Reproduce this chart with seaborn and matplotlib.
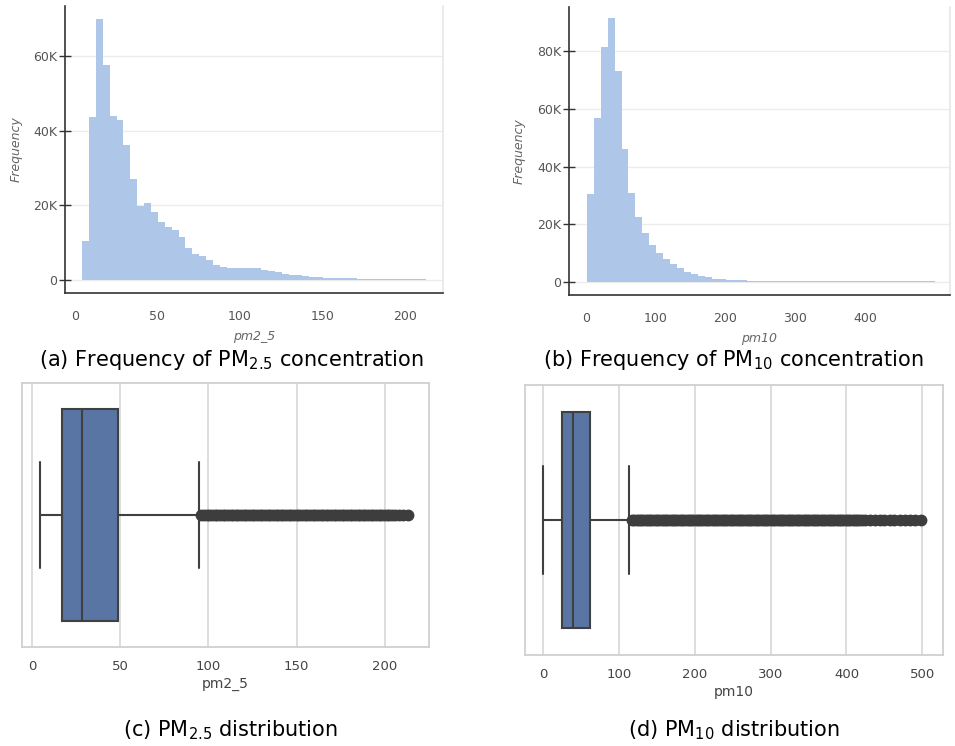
import numpy as np
import pandas as pd
import matplotlib
matplotlib.use('Agg')
import matplotlib.pyplot as plt
from matplotlib.ticker import FuncFormatter
import seaborn as sns

# histogram counts in thousands, 50 equal-width bins per pollutant
pm25_counts_k = [10.4, 43.7, 70.0, 57.7, 44.0, 42.8, 36.2, 27.0, 19.9, 20.6,
                 18.1, 15.5, 14.2, 13.4, 11.6, 8.5, 7.0, 6.4, 5.3, 4.1,
                 3.6, 3.3, 3.1, 3.1, 3.3, 3.2, 2.7, 2.3, 2.0, 1.7,
                 1.4, 1.2, 1.0, 0.8, 0.7, 0.6, 0.5, 0.45, 0.4, 0.4,
                 0.35, 0.3, 0.3, 0.25, 0.25, 0.25, 0.25, 0.25, 0.25, 0.25]
pm25_range = (4.4, 212.9)

pm10_counts_k = [30.4, 56.9, 81.5, 91.7, 73.3, 46.2, 30.8, 22.5, 16.9, 12.8,
                 10.1, 8.0, 6.1, 4.8, 3.6, 2.8, 2.1, 1.6, 1.2, 0.9,
                 0.75, 0.65, 0.55, 0.5, 0.45, 0.4, 0.35, 0.35, 0.3, 0.3,
                 0.3, 0.28, 0.27, 0.25, 0.25, 0.25, 0.25, 0.25, 0.25, 0.25,
                 0.25, 0.25, 0.25, 0.25, 0.25, 0.25, 0.25, 0.25, 0.25, 0.25]
pm10_range = (1.0, 500.0)

# box summaries: [lower whisker, q1, median, q3, upper whisker]
pm25_box = [4.4, 17.0, 28.3, 48.5, 94.6]
pm25_outliers = [96, 97.5, 99, 100.5, 102, 103.5, 105, 106.5, 108, 109.5,
                 111, 112.5, 114, 115.5, 117, 118.5, 120, 121.5, 123, 124.5,
                 126, 127.5, 129, 130.5, 132, 133.5, 135, 136.5, 138, 139.5,
                 141, 142.5, 144, 145.5, 147, 148.5, 150, 151.5, 153, 154.5,
                 156, 157.5, 159, 160.5, 162, 163.5, 165, 166.5, 168, 169.5,
                 171, 172.5, 174, 175.5, 177, 178.5, 180, 181.5, 183, 184.5,
                 186, 187.5, 189, 190.5, 192, 193.5, 195, 196.5, 198, 199.5,
                 201, 202.5, 204, 206, 208, 210.5, 213]
pm10_box = [0.0, 25.0, 38.7, 61.6, 113.0]
pm10_outliers = [117, 120, 123, 126, 129, 132, 135, 138, 141, 144,
                 147, 150, 153, 156, 159, 162, 165, 168, 171, 174,
                 177, 180, 183, 186, 189, 192, 195, 198, 201, 204,
                 207, 210, 213, 216, 219, 222, 225, 228, 231, 234,
                 237, 240, 243, 246, 249, 252, 255, 258, 261, 264,
                 267, 270, 273, 276, 279, 282, 285, 288, 291, 294,
                 297, 300, 303, 306, 309, 312, 315, 318, 321, 324,
                 327, 330, 333, 336, 339, 342, 345, 348, 351, 354,
                 357, 360, 363, 366, 369, 372, 375, 378, 381, 384,
                 387, 390, 393, 396, 399, 402, 405, 408, 411, 414,
                 417, 420, 425, 431, 437, 444, 450, 457, 463, 470,
                 477, 484, 491, 498]

captions = ['(a) Frequency of PM$_{2.5}$ concentration',
            '(b) Frequency of PM$_{10}$ concentration',
            '(c) PM$_{2.5}$ distribution',
            '(d) PM$_{10}$ distribution']

W, H = 955, 746


def px_axes(fig, x0, y0, x1, y1):
    # pixel box (top-left origin) -> figure fraction
    return fig.add_axes([x0 / W, 1 - y1 / H, (x1 - x0) / W, (y1 - y0) / H])


def box_sample(stats, outliers):
    # sample whose quartiles / whiskers reproduce the read summary
    lo, q1, med, q3, hi = stats
    m = len(outliers)
    k = 3 * m + 30
    vals = [lo] * (m + 1) + [q1] * k + [med] * k + [q3] * k + [hi] + list(outliers)
    return np.array(vals, dtype=float)


def draw_hist(ax, counts_k, rng, xlabel, xlim, ylim, xticks, yticks):
    n = len(counts_k)
    width = (rng[1] - rng[0]) / n
    df = pd.DataFrame({'v': rng[0] + width * (np.arange(n) + 0.5),
                       'w': np.array(counts_k) * 1000})
    sns.histplot(data=df, x='v', weights='w', bins=n, binrange=rng,
                 element='step', fill=True, color='#aec7e8', alpha=1,
                 linewidth=0, ax=ax)
    ax.set_xlim(*xlim)
    ax.set_ylim(*ylim)
    ax.set_xticks(xticks)
    ax.set_yticks(yticks)
    ax.yaxis.set_major_formatter(FuncFormatter(
        lambda v, p: '0' if v == 0 else '%dK' % (v / 1000)))
    ax.set_facecolor('white')
    ax.grid(axis='y', color='#ececec', linewidth=1)
    ax.grid(axis='x', visible=False)
    ax.set_axisbelow(True)
    ax.spines['top'].set_visible(False)
    ax.spines['right'].set_color('#e8e8e8')
    for s in ['left', 'bottom']:
        ax.spines[s].set_color('#333333')
        ax.spines[s].set_linewidth(1.2)
    ax.tick_params(axis='y', left=True, direction='inout', length=9, width=1,
                   color='#333333', pad=1, labelsize=9, labelcolor='#555555')
    ax.tick_params(axis='x', bottom=False, length=0, pad=12, labelsize=9,
                   labelcolor='#555555')
    ax.set_xlabel(xlabel, fontsize=9, style='italic', color='#666666', labelpad=5)
    ax.set_ylabel('Frequency', fontsize=9, style='italic', color='#666666',
                  labelpad=8)


def draw_box(ax, stats, outliers, xlabel, xlim, xticks):
    data = box_sample(stats, outliers)
    sns.boxplot(x=data, ax=ax, color='#4c72b0', saturation=0.75, width=0.8,
                linewidth=1.5, linecolor='#404040',
                flierprops=dict(marker='o', markersize=7.5,
                                markerfacecolor='#3d3d3d',
                                markeredgecolor='#3d3d3d'))
    ax.set_xlim(*xlim)
    ax.set_xticks(xticks)
    ax.set_yticks([])
    ax.grid(axis='x', color='#dadada', linewidth=1.3)
    for s in ax.spines.values():
        s.set_color('#d0d0d0')
        s.set_linewidth(1.3)
    ax.tick_params(axis='x', length=0, pad=9, labelsize=9.5, labelcolor='#444444')
    ax.set_xlabel(xlabel, fontsize=10, color='#444444', labelpad=3)


sns.set_theme(style='white')
plt.rcParams['font.family'] = ['DejaVu Sans']
plt.rcParams['mathtext.default'] = 'regular'

fig = plt.figure(figsize=(W / 100, H / 100), dpi=100)
fig.patch.set_facecolor('white')

ax_a = px_axes(fig, 65, 6, 443, 293)
draw_hist(ax_a, pm25_counts_k, pm25_range, 'pm2_5', (-6, 223), (-3500, 73400),
          [0, 50, 100, 150, 200], [0, 20000, 40000, 60000])

ax_b = px_axes(fig, 569, 7, 950, 295)
draw_hist(ax_b, pm10_counts_k, pm10_range, 'pm10', (-24.4, 522), (-4500, 95400),
          [0, 100, 200, 300, 400], [0, 20000, 40000, 60000, 80000])

with sns.axes_style('whitegrid'):
    ax_c = px_axes(fig, 22, 383, 429, 647)
    draw_box(ax_c, pm25_box, pm25_outliers, 'pm2_5', (-5.7, 225),
             [0, 50, 100, 150, 200])
    ax_d = px_axes(fig, 525, 385, 943, 655)
    draw_box(ax_d, pm10_box, pm10_outliers, 'pm10', (-24.1, 527.3),
             [0, 100, 200, 300, 400, 500])

cap_pos = [(231, 360), (733, 360), (230, 730), (734, 730)]
for text, (cx, cy) in zip(captions, cap_pos):
    fig.text(cx / W, 1 - cy / H, text, ha='center', va='center',
             fontsize=15, color='black')

fig.savefig('out.png', dpi=100)
